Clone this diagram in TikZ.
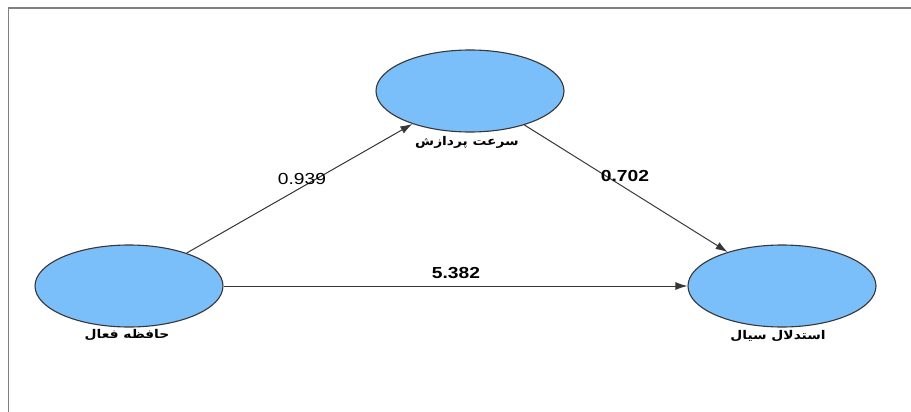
\documentclass[tikz,border=0pt]{standalone}
\usepackage{fontspec}
\setmainfont{Liberation Sans}
\newfontfamily\arabicfont[Script=Arabic]{DejaVu Sans}
\TeXXeTstate=1
\usetikzlibrary{shapes.geometric,arrows.meta}
\definecolor{latfill}{RGB}{122,190,250}
\definecolor{linegray}{RGB}{55,55,55}
\tikzset{
  latent/.style={ellipse, draw=linegray, line width=1.1pt, fill=latfill, minimum width=188pt, minimum height=82pt, inner sep=0pt},
  path/.style={draw=linegray, line width=1pt, -{Latex[length=12pt,width=8pt]}},
  fa/.style={font=\arabicfont\bfseries\fontsize{12}{14}\selectfont, inner sep=0pt},
  coef/.style={font=\fontsize{16}{18}\selectfont, inner sep=0pt},
  frame/.style={draw=gray, line width=1.5pt}
}
\begin{document}
\begin{tikzpicture}[x=1pt,y=-1pt]
\useasboundingbox (0,0) rectangle (911,412);
\fill[white] (0,0) rectangle (911,412);
\draw[frame] (8.5,420) -- (8.5,8) -- (920,8);
\node[latent] (speed) at (470,91) {};
\node[latent] (wm) at (129,286) {};
\node[latent] (fr) at (782,286) {};
\node[fa] (speedl) at (467,142) {\scalebox{1.15}[1]{\beginR سرعت پردازش\endR}};
\node[fa] (wml) at (127,335) {\scalebox{1.15}[1]{\beginR حافظه فعال\endR}};
\node[fa] (frl) at (778,336) {\scalebox{1.15}[1]{\beginR استدلال سیال\endR}};
\draw[path] (wm) -- (speed);
\draw[path] (speed) -- (fr);
\draw[path] (wm) -- (fr);
\node[coef] (c1) at (302,179) {\scalebox{1.2}[1]{0.939}};
\node[coef] (c2) at (625,176) {\scalebox{1.2}[1]{\bfseries 0.702}};
\node[coef] (c3) at (456,273) {\scalebox{1.2}[1]{\bfseries 5.382}};
\end{tikzpicture}
\end{document}
